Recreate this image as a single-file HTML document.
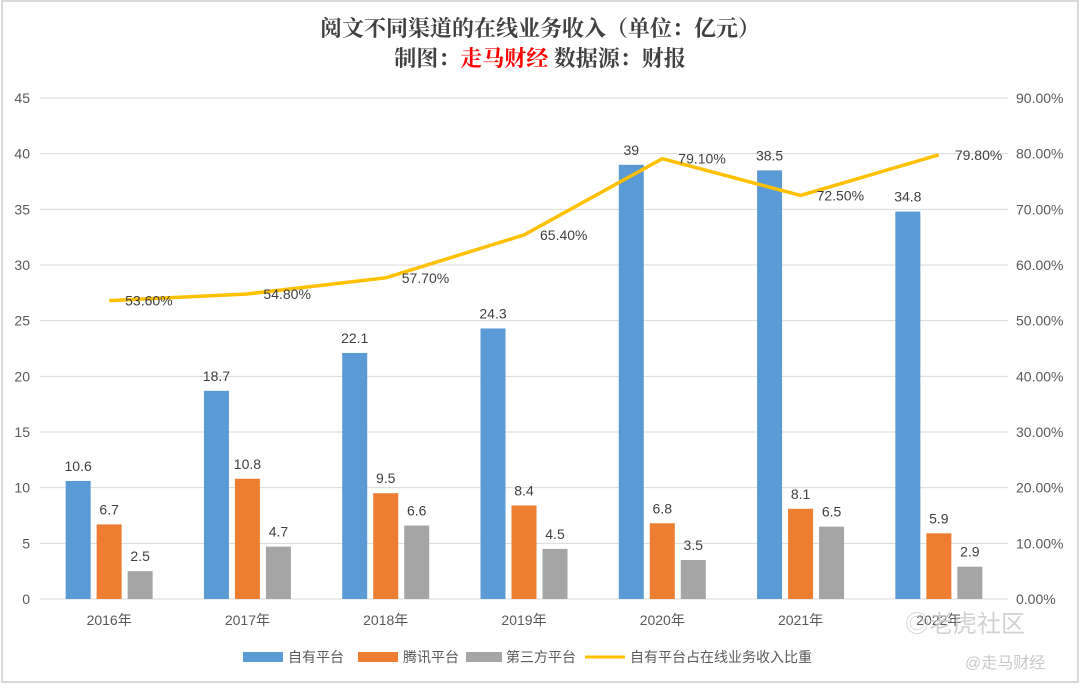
<!DOCTYPE html>
<html><head><meta charset="utf-8"><style>
body{margin:0;background:#fff;}
svg text{font-family:"Liberation Sans","Noto Sans CJK SC",sans-serif;}
</style></head><body>
<svg width="1080" height="684">
<rect x="2" y="1" width="1076" height="681" fill="#fff" stroke="#d9d9d9" stroke-width="2"/>
<text x="540" y="36" text-anchor="middle" font-size="22" font-weight="bold" fill="#404040" style="font-family:'Liberation Serif','Noto Serif CJK SC',serif">阅文不同渠道的在线业务收入（单位：亿元）</text>
<text x="540" y="66" text-anchor="middle" font-size="22" font-weight="bold" fill="#404040" style="font-family:'Liberation Serif','Noto Serif CJK SC',serif">制图：<tspan fill="#ff0000">走马财经</tspan>  数据源：财报</text>
<g id="grid"></g><g id="bars"></g><g id="line"></g><g id="labels"></g>
<g font-size="14" fill="#595959">
<rect x="243" y="652" width="40" height="10" fill="#5b9bd5"/><text x="288" y="662">自有平台</text>
<rect x="358" y="652" width="40" height="10" fill="#ed7d31"/><text x="403" y="662">腾讯平台</text>
<rect x="466" y="652" width="36" height="10" fill="#a5a5a5"/><text x="506" y="662">第三方平台</text>
<line x1="585" y1="657" x2="625" y2="657" stroke="#ffc000" stroke-width="3"/><text x="630" y="662">自有平台占在线业务收入比重</text>
</g>
<text x="905" y="632" font-size="24" fill="#c8c8c8" opacity="0.8">◎老虎社区</text>
<text x="965" y="668" font-size="16" fill="#c8c8c8">@走马财经</text>
</svg>
<script>
const categories=["2016年","2017年","2018年","2019年","2020年","2021年","2022年"];
const own=[10.6,18.7,22.1,24.3,39,38.5,34.8];
const tencent=[6.7,10.8,9.5,8.4,6.8,8.1,5.9];
const third=[2.5,4.7,6.6,4.5,3.5,6.5,2.9];
const share=[53.6,54.8,57.7,65.4,79.1,72.5,79.8];
const leftTicks=[0,5,10,15,20,25,30,35,40,45];
const rightTicks=[0,10,20,30,40,50,60,70,80,90];
const NS="http://www.w3.org/2000/svg";
const X0=40,X1=1008,Y0=599,YT=98;
const bw=(X1-X0)/categories.length;
const xC=i=>X0+bw*(i+0.5);
const yL=v=>Y0-(v/45)*(Y0-YT);
const yR=v=>Y0-(v/90)*(Y0-YT);
function mk(tag,parent,attrs){const e=document.createElementNS(NS,tag);for(const k in attrs)e.setAttribute(k,attrs[k]);document.getElementById(parent).appendChild(e);return e;}
leftTicks.forEach((t,i)=>{
  const l=mk('line','grid',{x1:X0,x2:X1,y1:yL(t),y2:yL(t),stroke:'#d9d9d9','stroke-width':1});
  
  
  const tx=mk('text','grid',{x:30,y:yL(t)+5,'text-anchor':'end','font-size':14,fill:'#595959'});
  tx.textContent=t;
  
  
});
rightTicks.forEach(t=>{
  const tx=mk('text','grid',{x:1016,y:yR(t)+5,'font-size':14,fill:'#595959'});
  tx.textContent=t.toFixed(2)+'%';
  
  
});
const series=[[own,'#5b9bd5',-31,'bar-own'],[tencent,'#ed7d31',0,'bar-tencent'],[third,'#a5a5a5',31,'bar-third']];
categories.forEach((c,i)=>{
  const tx=mk('text','labels',{x:xC(i),y:625,'text-anchor':'middle','font-size':14,fill:'#595959'});
  tx.textContent=c;
  
  
  series.forEach(([arr,col,off,name])=>{
    const v=arr[i],cx=xC(i)+off;
    const r=mk('rect','bars',{x:cx-12.5,y:yL(v),width:25,height:Y0-yL(v),fill:col});
    
    
    const lb=mk('text','labels',{x:cx,y:yL(v)-10,'text-anchor':'middle','font-size':14,fill:'#404040'});
    lb.textContent=v;
    
    
  });
});
const pl=mk('polyline','line',{points:share.map((v,i)=>xC(i)+','+yR(v)).join(' '),fill:'none',stroke:'#ffc000','stroke-width':3.5,'stroke-linejoin':'round'});


share.forEach((v,i)=>{
  const lb=mk('text','labels',{x:xC(i)+16,y:yR(v)+5,'font-size':14,fill:'#404040'});
  lb.textContent=v.toFixed(2)+'%';
  
  
});
</script>
</body></html>
